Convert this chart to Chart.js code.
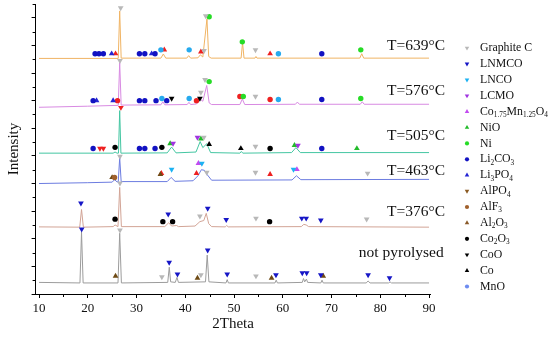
<!DOCTYPE html>
<html>
<head>
<meta charset="utf-8">
<script src="https://cdn.jsdelivr.net/npm/chart.js@4"></script>
<style>
  html, body { margin: 0; padding: 0; background: #fff; }
  #wrap { width: 550px; height: 346px; }
</style>
</head>
<body>
<div id="wrap"><canvas id="xrd" width="550" height="346"></canvas></div>
<script>
/* XRD patterns — 2Theta vs. intensity (stacked, arbitrary units) */

// ---- data: traces [2Theta, intensity] ----
const traceNames = ['T=639°C', 'T=576°C', 'T=505°C', 'T=463°C', 'T=376°C', 'not pyrolysed'];

const t639 = [[10,8.53],[26.25,8.53],[26.55,10.25],[26.85,8.54],[35.0,8.54],[35.5,8.69],[36.0,8.54],
  [40.3,8.54],[40.7,8.63],[41.1,8.54],[42.6,8.55],[43.1,8.66],[43.6,8.58],[44.45,9.96],[44.8,8.6],
  [45.3,8.54],[51.45,8.54],[51.75,9.10],[52.05,8.54],[54.3,8.54],[54.5,8.6],[54.7,8.54],
  [75.8,8.54],[76.2,8.7],[76.6,8.54],[90,8.54]];
const t576 = [[10,6.76],[20,6.8],[26.25,6.83],[26.55,8.38],[26.85,6.84],[35.0,6.85],[35.4,6.96],[35.8,6.85],
  [40.4,6.86],[40.75,6.94],[41.1,6.86],[42.3,6.88],[43.0,7.06],[43.6,6.98],[44.4,7.55],[44.9,6.92],
  [45.4,6.86],[51.2,6.86],[51.7,7.06],[52.2,6.86],[62.6,6.87],[63.0,6.95],[63.4,6.87],
  [75.9,6.87],[76.3,6.96],[76.7,6.87],[90,6.87]];
const t505 = [[10,5.1],[25.2,5.1],[25.6,5.14],[26.0,5.1],[26.3,5.1],[26.55,6.64],[26.8,5.1],[36.3,5.11],
  [37.2,5.32],[38.1,5.11],[42.2,5.14],[43.05,5.52],[43.6,5.3],[44.4,5.44],[45.2,5.12],[51.2,5.1],
  [51.5,5.16],[51.8,5.1],[61.8,5.12],[62.7,5.3],[63.6,5.12],[90,5.12]];
const t463 = [[10,4.0],[20,4.03],[25.0,4.05],[25.5,4.14],[26.0,4.06],[26.25,4.06],[26.55,4.93],[26.85,4.07],
  [36.3,4.07],[37.1,4.22],[37.9,4.08],[41.6,4.1],[42.6,4.28],[43.3,4.5],[43.9,4.48],[44.5,4.32],
  [45.4,4.12],[61.9,4.13],[62.8,4.28],[63.7,4.14],[90,4.15]];
const t376 = [[10,2.43],[18.35,2.42],[18.72,3.06],[19.1,2.42],[25.2,2.44],[25.6,2.5],[26.2,2.44],[26.55,3.86],
  [26.9,2.44],[35.8,2.44],[36.6,2.58],[37.2,2.46],[38.2,2.48],[38.6,2.44],[42.0,2.46],[43.0,2.62],
  [43.8,2.66],[44.3,2.92],[44.8,2.55],[45.4,2.44],[48.2,2.43],[48.5,2.48],[48.8,2.43],[63.8,2.44],
  [64.3,2.52],[64.8,2.5],[65.3,2.44],[90,2.42]];
const tRaw = [[10,0.42],[18.4,0.4],[18.72,2.24],[19.05,0.4],[26.2,0.4],[26.55,2.2],[26.9,0.4],[36.4,0.42],
  [36.72,0.97],[37.0,0.44],[37.95,0.42],[38.3,0.6],[38.6,0.42],[44.15,0.44],[44.5,1.41],[44.85,0.44],
  [48.35,0.4],[48.6,0.52],[48.85,0.4],[58.4,0.4],[58.65,0.5],[58.9,0.4],[64.0,0.42],[64.25,0.56],
  [64.5,0.44],[64.85,0.54],[65.1,0.42],[67.8,0.4],[68.05,0.5],[68.3,0.4],[77.1,0.4],[77.5,0.47],
  [77.9,0.4],[81.7,0.4],[82.0,0.44],[82.3,0.4],[90,0.4]];
const traces = [t639, t576, t505, t463, t376, tRaw];

// ---- data: phase markers [2Theta, intensity] ----
const graphiteC = [[26.75,10.36],[43.85,8.81],[44.2,10.07],[54.4,8.84],[26.6,8.45],[43.2,7.3],[44.05,7.76],
  [54.4,7.15],[43.8,5.67],[54.4,5.34],[26.6,4.98],[44.4,4.4],[54.4,4.4],[77.4,4.37],[26.6,4.01],
  [43.0,2.82],[54.5,2.74],[77.2,2.71],[26.6,2.31],[35.2,0.62],[43.2,0.69],[54.5,0.65]];
const lnmco = [[18.6,3.29],[36.5,2.89],[44.6,3.1],[48.4,2.69],[63.9,2.74],[64.8,2.74],[67.8,2.67],
  [18.75,2.35],[36.7,1.14],[38.4,0.72],[44.6,1.59],[48.6,0.72],[58.6,0.69],[64.0,0.76],[64.9,0.76],
  [67.8,0.69],[77.5,0.69],[81.9,0.58]];
const lnco = [[37.2,4.51],[43.4,4.73],[62.2,4.51]];
const lcmo = [[37.5,5.45],[42.5,5.67],[63.1,5.38]];
const coMnO = [[42.7,4.73],[62.9,4.51]];
const nio = [[36.9,5.45],[43.2,5.62],[62.4,5.38],[75.2,5.27]];
const ni = [[44.9,10.04],[51.7,9.13],[76.0,8.84],[44.9,7.69],[51.9,7.15],[76.0,7.08]];
const li2co3 = [[21.5,8.7],[22.3,8.7],[23.2,8.7],[30.6,8.7],[31.7,8.7],[33.8,8.7],[68.0,8.7],
  [21.1,7.0],[30.6,7.0],[31.7,7.0],[34.0,7.0],[36.2,7.0],[68.0,7.04],
  [21.1,5.27],[30.6,5.27],[31.7,5.27],[33.8,5.27],[68.0,5.27]];
const li3po4 = [[24.9,8.7],[33.1,8.7],[21.8,7.0],[25.2,7.0]];
const alf3 = [[25.5,4.22]];
const al2o3 = [[25.0,4.22],[34.9,4.33],[25.7,0.65],[42.5,0.58],[57.7,0.58],[68.3,0.65]];
const co2o3 = [[25.6,5.31],[35.2,5.31],[57.4,5.27],[25.6,2.71],[35.4,2.62],[37.4,2.62],[57.3,2.62]];
const coo = [[37.2,7.08],[43.0,7.08]];
const co = [[44.9,5.42],[51.4,5.27]];
const mno = [[35.0,8.84],[40.8,8.84],[59.1,8.7],[35.2,7.08],[40.8,7.08],[59.1,7.04]];
// red marks drawn in the plot (not listed in the legend)
const redUp = [[25.7,8.7],[35.7,8.84],[43.2,8.77],[57.4,8.7],[35.1,4.37],[42.3,4.37],[57.4,4.33]];
const redDot = [[26.1,7.0],[42.3,7.0],[51.2,7.15],[57.4,7.04]];
const redDown = [[22.5,5.27],[23.2,5.27],[26.8,6.75]];

// legend entries (text uses _{..} for subscripts)
const legendNames = ['Graphite C', 'LNMCO', 'LNCO', 'LCMO', 'Co_{1.75}Mn_{1.25}O_{4}', 'NiO', 'Ni',
  'Li_{2}CO_{3}', 'Li_{3}PO_{4}', 'AlPO_{4}', 'AlF_{3}', 'Al_{2}O_{3}', 'Co_{2}O_{3}', 'CoO', 'Co', 'MnO'];

const xTicks = [10, 20, 30, 40, 50, 60, 70, 80, 90];
const yTicks = [0, 1, 2, 3, 4, 5, 6, 7, 8, 9, 10];

// ---- styles ----
const traceColors = ['#f0b464', '#d88ae2', '#44c6a2', '#6c7ce0', '#d2a496', '#9c9c9c'];
const FONT = "'Liberation Serif', 'Times New Roman', serif";

// [data, colour, shape, pointing down, legend colour]
const markerDefs = [
  [graphiteC, '#b8b8b8', 'triangle', true,  '#b8b8b8'],
  [lnmco,     '#1616c6', 'triangle', true,  '#1616c6'],
  [lnco,      '#1cb2f2', 'triangle', true,  '#1cb2f2'],
  [lcmo,      '#a034e0', 'triangle', true,  '#a034e0'],
  [coMnO,     '#c24af0', 'triangle', false, '#c24af0'],
  [nio,       '#22bb2a', 'triangle', false, '#22bb2a'],
  [ni,        '#26dc26', 'circle',   false, '#26dc26'],
  [li2co3,    '#1212c2', 'circle',   false, '#1212c2'],
  [li3po4,    '#2424d4', 'triangle', false, '#2424d4'],
  [[],        '#8a5a22', 'triangle', true,  '#8a5a22'],
  [alf3,      '#a0602c', 'circle',   false, '#a0602c'],
  [al2o3,     '#6e4a14', 'triangle', false, '#8a5a2a'],
  [co2o3,     '#000000', 'circle',   false, '#000000'],
  [coo,       '#000000', 'triangle', true,  '#000000'],
  [co,        '#000000', 'triangle', false, '#000000'],
  [mno,       '#26aaee', 'circle',   false, '#6e8cf0'],
  [redUp,     '#ee2020', 'triangle', false, null],
  [redDot,    '#ee2020', 'circle',   false, null],
  [redDown,   '#ee2020', 'triangle', true,  null],
];

const toXY = arr => arr.map(([x, y]) => ({ x, y }));

const datasets = [];
markerDefs.forEach(([data, color, shape, down]) => {
  datasets.push({
    data: toXY(data),
    backgroundColor: color,
    borderColor: color,
    borderWidth: 0,
    pointStyle: shape,
    pointRotation: down ? 180 : 0,
    pointRadius: shape === 'circle' ? 2.7 : 3.3,
    showLine: false,
    order: 1,
  });
});
traces.forEach((t, i) => {
  datasets.push({
    data: toXY(t),
    borderColor: traceColors[i],
    borderWidth: 1,
    pointRadius: 0,
    showLine: true,
    tension: 0,
    order: 2,
  });
});

// draw text with _{..} subscripts
function drawRich(ctx, text, x, y, size) {
  const parts = text.split(/(_\{[^}]*\})/).filter(Boolean);
  parts.forEach(p => {
    if (p.startsWith('_{')) {
      const s = p.slice(2, -1);
      ctx.font = (size * 0.62) + 'px ' + FONT;
      ctx.fillText(s, x, y + size * 0.3);
      x += ctx.measureText(s).width;
    } else {
      ctx.font = size + 'px ' + FONT;
      ctx.fillText(p, x, y);
      x += ctx.measureText(p).width;
    }
  });
}

// minor ticks, curve labels, legend
const decor = {
  id: 'decor',
  afterDraw(chart) {
    const { ctx, scales: { x, y } } = chart;
    ctx.save();
    ctx.strokeStyle = '#000';
    ctx.lineWidth = 1;
    ctx.beginPath();
    for (let v = 15; v <= 85; v += 10) {
      const px = Math.round(x.getPixelForValue(v)) + 0.5;
      ctx.moveTo(px, y.bottom); ctx.lineTo(px, y.bottom + 3);
    }
    for (let v = 0.5; v <= 10.5; v += 1) {
      const py = Math.round(y.getPixelForValue(v)) + 0.5;
      ctx.moveTo(x.left, py); ctx.lineTo(x.left - 3, py);
    }
    ctx.stroke();

    // curve labels
    const labelAt = [[81.4, 8.99], [81.4, 7.36], [81.4, 5.72], [81.4, 4.47], [81.4, 2.97], [75.6, 1.47]];
    ctx.fillStyle = '#111';
    ctx.textBaseline = 'middle';
    ctx.textAlign = 'left';
    ctx.font = '15.5px ' + FONT;
    traceNames.forEach((name, i) => {
      ctx.fillText(name, x.getPixelForValue(labelAt[i][0]), y.getPixelForValue(labelAt[i][1]));
    });

    // legend
    legendNames.forEach((name, i) => {
      const [, , shape, down, lc] = markerDefs[i];
      const ly = 48 + i * 15.9;
      ctx.fillStyle = lc;
      ctx.beginPath();
      if (shape === 'circle') {
        ctx.arc(467, ly, 2.1, 0, Math.PI * 2);
      } else {
        const r = 2.6, s = down ? -1 : 1;
        ctx.moveTo(467, ly - s * r);
        ctx.lineTo(467 + r * 0.87, ly + s * r * 0.5);
        ctx.lineTo(467 - r * 0.87, ly + s * r * 0.5);
        ctx.closePath();
      }
      ctx.fill();
      ctx.fillStyle = '#111';
      drawRich(ctx, name, 480, ly, 11.8);
    });
    ctx.restore();
  },
};

new Chart(document.getElementById('xrd'), {
  type: 'scatter',
  data: { datasets },
  options: {
    responsive: false,
    animation: false,
    events: [],
    layout: { padding: { left: 0, top: 3, right: 119.5, bottom: 0 } },
    plugins: { legend: { display: false }, tooltip: { enabled: false } },
    scales: {
      x: {
        type: 'linear',
        min: 9.3,
        max: 90.3,
        afterBuildTicks: s => { s.ticks = xTicks.map(v => ({ value: v })); },
        afterFit: s => { s.height = 52; },
        grid: { drawOnChartArea: false, drawTicks: true, tickLength: 4, color: '#000' },
        border: { display: true, color: '#000', width: 1 },
        ticks: { color: '#111', padding: 3, font: { family: FONT, size: 13 } },
        title: { display: true, text: '2Theta', color: '#111', padding: { top: 0, bottom: 13 },
                 font: { family: FONT, size: 15 } },
      },
      y: {
        type: 'linear',
        min: 0,
        max: 10.5,
        afterBuildTicks: s => { s.ticks = yTicks.map(v => ({ value: v })); },
        afterFit: s => { s.width = 35.6; },
        grid: { drawOnChartArea: false, drawTicks: true, tickLength: 4, color: '#000' },
        border: { display: true, color: '#000', width: 1 },
        ticks: { display: false },
        title: { display: true, text: 'Intensity', color: '#111', padding: { top: 5, bottom: 0 },
                 font: { family: FONT, size: 15 } },
      },
    },
  },
  plugins: [decor],
});
</script>
</body>
</html>
